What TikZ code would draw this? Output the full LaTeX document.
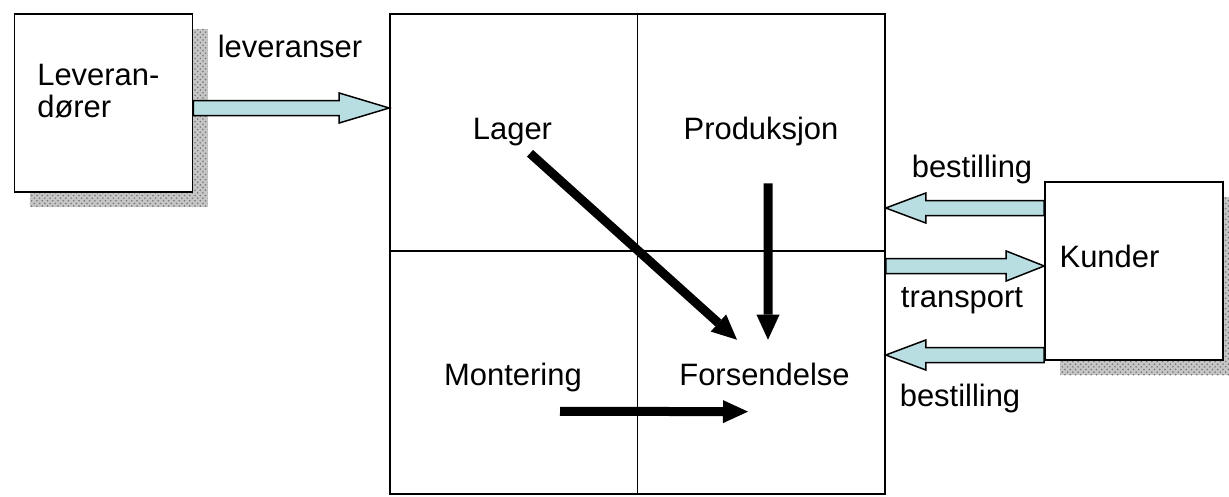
\documentclass[tikz,border=0pt]{standalone}
\usepackage{fontspec}
\setmainfont{Liberation Sans}
\usetikzlibrary{arrows.meta,shadows,calc,positioning,patterns}

\definecolor{pipe}{RGB}{185,222,226}

\tikzset{
  box/.style={draw, line width=0.9pt, fill=white, minimum width=3.56cm, minimum height=3.56cm,
    drop shadow={shadow xshift=0.3cm, shadow yshift=-0.3cm, fill=gray!45, opacity=1,
      postaction={pattern=crosshatch dots, pattern color=gray!110}}},
  lbl/.style={inner sep=0pt, anchor=base},
  flow/.style={line width=0.18cm, -{Triangle[length=0.5cm,width=0.46cm,line width=0pt]}},
  fatarr/.style={draw, line width=0.85pt, fill=pipe}
}

% fat arrow from #1 to #2, head length #3
\newcommand{\fatarrow}[3]{%
  \draw[fatarr] let \p1=(#1), \p2=(#2), \n1={sign(\x2-\x1)*#3} in
    (\x1,\y1+0.15cm) -- (\x2-\n1,\y1+0.15cm) -- (\x2-\n1,\y1+0.3cm) -- (\x2,\y1)
    -- (\x2-\n1,\y1-0.3cm) -- (\x2-\n1,\y1-0.15cm) -- (\x1,\y1-0.15cm) -- cycle;}

\begin{document}
\begin{tikzpicture}[font=\fontsize{17.6}{18.2}\selectfont]
  \useasboundingbox (0,0) rectangle (24.58,-9.92);

  % partners
  \node[box] (lev) at (2.07,-2.06) {};
  \node[lbl, anchor=west, align=left] (levtxt) at (0.74,-1.82) {Leveran-\\dører};
  \node[box] (kunder) at (22.68,-5.42) {};
  \node[lbl] (kundertxt) at (22.19,-5.34) {Kunder};

  % the factory
  \node[draw, line width=0.9pt, minimum width=9.9cm, minimum height=9.6cm] (fab) at (12.75,-5.08) {};
  \draw[line width=1.1pt] (fab.north) -- (fab.south)
    ([yshift=0.06cm]fab.west) -- ([yshift=0.06cm]fab.east);

  \node[lbl] (lager) at (10.25,-2.78) {Lager};
  \node[lbl] (prod) at (15.22,-2.78) {Produksjon};
  \node[lbl] (mont) at (10.26,-7.7) {Montering};
  \node[lbl] (fors) at (15.29,-7.7) {Forsendelse};

  \draw[flow] ([shift={(0.35,-0.15)}]lager.south) -- ([shift={(-0.55,0.45)}]fors.north);
  \draw[flow] ([shift={(0.14,-0.75)}]prod.south) -- ([shift={(0.07,0.45)}]fors.north);
  \draw[flow] ([shift={(0.94,-0.39)}]mont.south) -- ([shift={(-0.33,-0.52)}]fors.south);

  % goods and orders
  \node[lbl] (levlbl) at (5.8,-1.14) {leveranser};
  \node[lbl] (best1) at (19.44,-3.54) {bestilling};
  \node[lbl] (transp) at (19.24,-6.14) {transport};
  \node[lbl] (best2) at (19.2,-8.12) {bestilling};

  \fatarrow{[yshift=-0.1cm]lev.east}{fab.west}{1cm}
  \fatarrow{[yshift=1.26cm]kunder.west}{fab.east}{0.8cm}
  \fatarrow{[yshift=0.1cm]kunder.west -| fab.east}{kunder.west}{0.76cm}
  \fatarrow{[yshift=-1.68cm]kunder.west}{fab.east}{0.8cm}
\end{tikzpicture}
\end{document}
